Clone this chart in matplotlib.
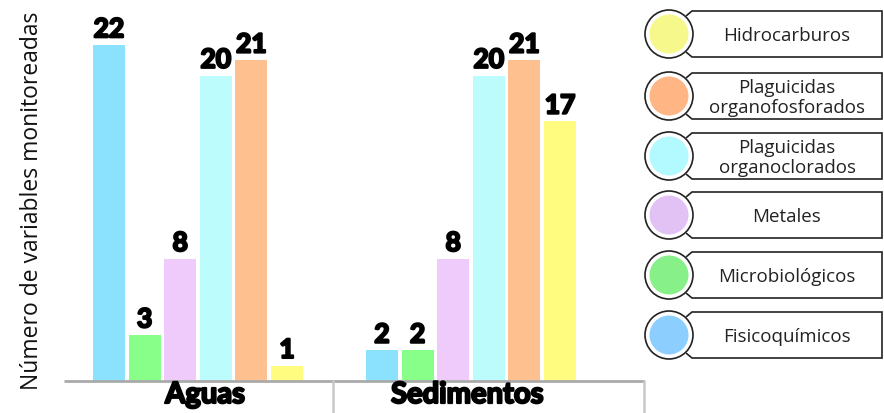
import numpy as np
import matplotlib.pyplot as plt
import matplotlib.patheffects as pe
from matplotlib.patches import Circle, Polygon

# datos
grupos = ['Aguas', 'Sedimentos']
categorias = ['Fisicoquímicos', 'Microbiológicos', 'Metales',
              'Plaguicidas\norganoclorados', 'Plaguicidas\norganofosforados',
              'Hidrocarburos']
aguas = [22, 3, 8, 20, 21, 1]
sedimentos = [2, 2, 8, 20, 21, 17]
colores = ['#8AE2FF', '#88FF88', '#EFCBFB', '#BDFCFC', '#FFC08F', '#FFFC80']
colores_ley = ['#8CCFFF', '#88F088', '#E2C2F5', '#B2FAFF', '#FFB584', '#F6F88C']

W, H = 884, 414
fig = plt.figure(figsize=(W / 100, H / 100), dpi=100)

# ejes principales en pixeles
left, right, base, top = 64, 644, 382, 15
ax = fig.add_axes([left / W, (H - base) / H, (right - left) / W, (base - top) / H])
slot = 35.6
x0 = (109 - left) / slot
ax.set_xlim(-x0, (right - 109) / slot)
ax.set_ylim(0, (base - top) / 15.27)
ax.axis('off')

grueso = [pe.withStroke(linewidth=1.6, foreground='black')]
etiqueta = dict(ha='center', va='bottom', family='Lato', fontweight='bold',
                fontsize=19, color='black', path_effects=grueso)
off = (382 - 109) / slot
for g, vals in enumerate([aguas, sedimentos]):
    xs = np.arange(len(vals)) + g * off
    ax.bar(xs, vals, width=0.9, color=colores)
    for xi, v in zip(xs, vals):
        ax.text(xi, v + 0.25, str(v), **etiqueta)

# capa en pixeles para lineas y leyenda
ov = fig.add_axes([0, 0, 1, 1])
ov.set_xlim(0, W)
ov.set_ylim(H, 0)
ov.axis('off')
ov.plot([left, right], [base, base], color='#AAAAAA', lw=2, solid_capstyle='butt')
for sx in [333, 644]:
    ov.plot([sx, sx], [base, H], color='#C8C8C8', lw=1.8)

for g, cx in zip(grupos, [205, 467]):
    ov.text(cx, 396, g, ha='center', va='center', family='Lato',
            fontweight='bold', fontsize=21, path_effects=grueso)

ov.text(32, 201, 'Número de variables monitoreadas', rotation=90,
        ha='center', va='center', family='Open Sans', fontsize=16.5,
        color='#111111')

filas = [336, 276, 216, 157, 97, 35]
for cat, c, cy in zip(categorias, colores_ley, filas):
    caja = Polygon([(686, cy - 18), (692, cy - 23), (882, cy - 23),
                    (882, cy + 23), (692, cy + 23), (686, cy + 18)],
                   closed=False, fill=False, edgecolor='#222222', lw=1.2)
    ov.add_patch(caja)
    ov.add_patch(Circle((669, cy), 24, facecolor='white', edgecolor='#222222', lw=1.2))
    ov.add_patch(Circle((669, cy), 19.5, facecolor=c, edgecolor='none'))
    ov.text(787, cy + 1, cat, ha='center', va='center', family='Open Sans',
            fontsize=13.5, color='#222222', linespacing=1.12)

fig.savefig('out.png', dpi=100)
